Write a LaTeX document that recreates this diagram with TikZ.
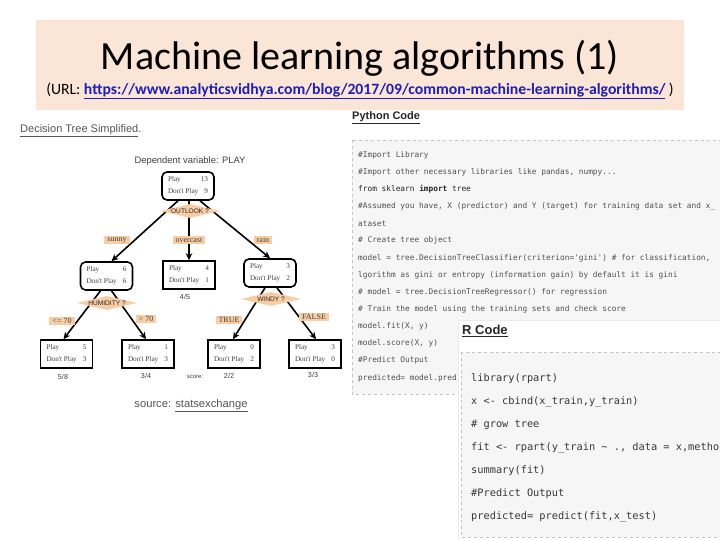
\documentclass[tikz,border=0pt]{standalone}
\usepackage{fontspec}
\setmainfont{Liberation Sans}
\setmonofont{DejaVu Sans Mono}
\newfontfamily\calibri{Carlito}
\newfontfamily\serifb{Liberation Serif}
\usetikzlibrary{shapes.geometric,arrows.meta}
\definecolor{peach}{HTML}{FBE5D6}
\definecolor{dpeach}{HTML}{F9CDA4}
\definecolor{linkblue}{HTML}{1F1FB4}
\definecolor{codebg}{HTML}{F6F6F6}
\definecolor{codeline}{HTML}{C4C4C4}
\definecolor{pytxt}{HTML}{505050}
\definecolor{rtxt}{HTML}{383838}
\definecolor{graytxt}{HTML}{555555}
\newcommand{\pv}[2]{\makebox[40pt]{Play\hfill #1}\\[3pt]\makebox[40pt]{Don't Play\hfill #2}}
\tikzset{
  treebox/.style={draw, line width=1.6pt, minimum width=52pt, minimum height=28pt, inner sep=0pt,
    font=\serifb\fontsize{7.2}{9}\selectfont, text=black!75, align=center},
  rtreebox/.style={treebox, rounded corners=5pt},
  dia/.style={diamond, fill=dpeach, inner sep=0pt, minimum width=60pt, minimum height=14pt},
  diatext/.style={inner sep=0pt, font=\fontsize{6.6}{7}\selectfont, text=black!85},
  elab/.style={fill=dpeach, inner xsep=3pt, inner ysep=1.5pt, font=\serifb\fontsize{8}{9}\selectfont, text=black!75},
  arr/.style={line width=1.6pt, -{Stealth[length=7pt,width=6.5pt]}},
  score/.style={font=\fontsize{7.2}{8}\selectfont, text=black!75},
  pyline/.style={anchor=west, inner sep=0pt, font=\ttfamily\fontsize{7.8}{9}\selectfont, text=pytxt},
  rline/.style={anchor=west, inner sep=0pt, font=\ttfamily\fontsize{10.3}{12}\selectfont, text=rtxt},
  panel/.style={fill=codebg, draw=codeline, dashed, line width=0.6pt}
}
\begin{document}
\begin{tikzpicture}[x=1pt,y=-1pt]
\useasboundingbox (0,0) rectangle (720,540);
\clip (0,0) rectangle (720,540);
\fill[white] (0,0) rectangle (720,540);
% title
\fill[peach] (36,20) rectangle (684,110);
\node (title) at (360,58) {\calibri\fontsize{40}{44}\selectfont Machine learning algorithms (1)};
\node (url) at (360,91) {\calibri\fontsize{15.7}{17}\selectfont (URL: \textcolor{linkblue}{\bfseries\underline{https://www.analyticsvidhya.com/blog/2017/09/common-machine-learning-algorithms/}} )};
% left: decision tree
\node[anchor=west, inner sep=0pt, text=graytxt, font=\fontsize{11}{12}\selectfont] (dts) at (20,131) {\underline{Decision Tree Simplified}.};
\node[text=black!75, font=\fontsize{9.4}{11}\selectfont] (dep) at (190,161) {Dependent variable: PLAY};
\node[rtreebox] (root) at (188,186) {\pv{13}{9}};
\node[rtreebox] (c1) at (106.5,276) {\pv{6}{6}};
\node[treebox] (c2) at (189,275) {\pv{4}{1}};
\node[rtreebox] (c3) at (270,273) {\pv{3}{2}};
\node[treebox] (l1) at (66.5,354) {\pv{5}{3}};
\node[treebox] (l2) at (148,354) {\pv{1}{3}};
\node[treebox] (l3) at (234,354) {\pv{0}{2}};
\node[treebox] (l4) at (315,354) {\pv{3}{0}};
\draw[arr] ([xshift=-10pt]root.south) -- ([xshift=5pt]c1.north);
\draw[arr] ([xshift=1pt]root.south) -- (c2.north);
\draw[arr] ([xshift=12pt]root.south) -- (c3.north);
\draw[arr] ([xshift=-6pt]c1.south) -- ([xshift=-3pt]l1.north);
\draw[arr] ([xshift=5pt]c1.south) -- ([xshift=-2pt]l2.north);
\draw[arr] ([xshift=-5pt]c3.south) -- ([xshift=-1pt]l3.north);
\draw[arr] ([xshift=7pt]c3.south) -- ([xshift=1pt]l4.north);
\node[dia] (outlook) at (190,211) {};
\node[diatext] (outlookt) at (outlook.center) {OUTLOOK ?};
\node[dia] (humid) at (107,303) {};
\node[diatext] (humidt) at (humid.center) {HUMIDITY ?};
\node[dia] (windy) at (271,299) {};
\node[diatext] (windyt) at (windy.center) {WINDY ?};
\node[elab] (sunny) at (117,240) {sunny};
\node[elab] (overcast) at (189,240) {overcast};
\node[elab] (rain) at (263,240) {rain};
\node[elab] (le70) at (62,321) {<= 70};
\node[elab] (gt70) at (146,319) {> 70};
\node[elab] (true) at (229,320) {TRUE};
\node[elab] (false) at (314,317) {FALSE};
\node[score] (s2) at (185,297) {4/5};
\node[score] (s3) at (63,377) {5/8};
\node[score] (s4) at (146,376) {3/4};
\node[score, font=\fontsize{6}{7}\selectfont] (slab) at (195,377) {score:};
\node[score] (s5) at (229,376) {2/2};
\node[score] (s6) at (313,375) {3/3};
\node[text=graytxt, font=\fontsize{11.2}{13}\selectfont] (src) at (191,406) {source: \underline{statsexchange}};
% python code
\node[anchor=west, inner sep=0pt, font=\bfseries\fontsize{11}{12}\selectfont, text=black!85] (pyh) at (352,118) {\underline{Python Code}};
\path[panel] (352,140) rectangle (730,394);
\node[pyline] (p1) at (358,155) {\#Import Library};
\node[pyline] (p2) at (358,172.15) {\#Import other necessary libraries like pandas, numpy...};
\node[pyline, text=black!85] (p3) at (358,189.3) {from sklearn \textbf{import} tree};
\node[pyline] (p4) at (358,206.45) {\#Assumed you have, X (predictor) and Y (target) for training data set and x\_};
\node[pyline] (p5) at (358,223.6) {ataset};
\node[pyline] (p6) at (358,240.75) {\# Create tree object};
\node[pyline] (p7) at (358,257.9) {model = tree.DecisionTreeClassifier(criterion='gini') \# for classification,};
\node[pyline] (p8) at (358,275.05) {lgorithm as gini or entropy (information gain) by default it is gini};
\node[pyline] (p9) at (358,292.2) {\# model = tree.DecisionTreeRegressor() for regression};
\node[pyline] (p10) at (358,309.35) {\# Train the model using the training sets and check score};
\node[pyline] (p11) at (358,326.5) {model.fit(X, y)};
\node[pyline] (p12) at (358,343.65) {model.score(X, y)};
\node[pyline] (p13) at (358,360.8) {\#Predict Output};
\node[pyline] (p14) at (358,377.95) {predicted= model.pred};
% R code
\path[fill=white, draw=black!8, line width=0.6pt] (458,320) rectangle (730,545);
\node[anchor=west, inner sep=0pt, font=\bfseries\fontsize{13}{14}\selectfont, text=black!85] (rh) at (462,331) {\underline{R Code}};
\path[panel] (461,352) rectangle (730,537);
\node[rline] (r1) at (471,379) {library(rpart)};
\node[rline] (r2) at (471,402) {x <- cbind(x\_train,y\_train)};
\node[rline] (r3) at (471,425) {\# grow tree};
\node[rline] (r4) at (471,448) {fit <- rpart(y\_train \textasciitilde\ ., data = x,metho};
\node[rline] (r5) at (471,471) {summary(fit)};
\node[rline] (r6) at (471,494) {\#Predict Output};
\node[rline] (r7) at (471,517) {predicted= predict(fit,x\_test)};
\end{tikzpicture}
\end{document}
